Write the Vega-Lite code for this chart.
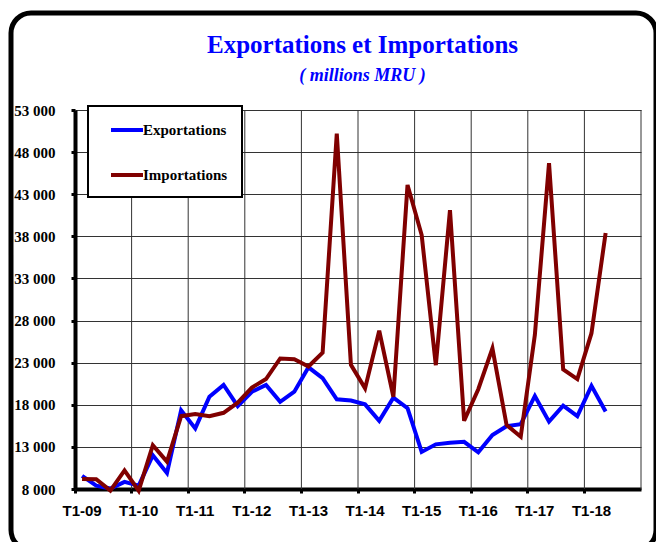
{
  "$schema": "https://vega.github.io/schema/vega-lite/v6.json",
  "width": 645,
  "height": 537,
  "autosize": {"type": "none"},
  "padding": {"left": 11, "top": 13, "right": 0, "bottom": 0},
  "background": "white",
  "config": {"view": {"stroke": "black", "strokeWidth": 5, "cornerRadius": 20, "fill": "white"}},
  "title": {
    "text": "Exportations et Importations",
    "subtitle": "( millions MRU )",
    "anchor": "middle",
    "frame": "group",
    "dx": 29,
    "offset": -72,
    "font": "Liberation Serif",
    "fontSize": 25,
    "fontWeight": "bold",
    "color": "#0000FF",
    "subtitleFont": "Liberation Serif",
    "subtitleFontSize": 18,
    "subtitleFontWeight": "bold",
    "subtitleFontStyle": "italic",
    "subtitleColor": "#0000FF",
    "subtitlePadding": 9
  },
  "data": {"values": [
    {"trimestre": "T1-09", "serie": "Exportations", "valeur": 9550},
    {"trimestre": "T2-09", "serie": "Exportations", "valeur": 8400},
    {"trimestre": "T3-09", "serie": "Exportations", "valeur": 8050},
    {"trimestre": "T4-09", "serie": "Exportations", "valeur": 8850},
    {"trimestre": "T1-10", "serie": "Exportations", "valeur": 8400},
    {"trimestre": "T2-10", "serie": "Exportations", "valeur": 12000},
    {"trimestre": "T3-10", "serie": "Exportations", "valeur": 9900},
    {"trimestre": "T4-10", "serie": "Exportations", "valeur": 17350},
    {"trimestre": "T1-11", "serie": "Exportations", "valeur": 15200},
    {"trimestre": "T2-11", "serie": "Exportations", "valeur": 18950},
    {"trimestre": "T3-11", "serie": "Exportations", "valeur": 20350},
    {"trimestre": "T4-11", "serie": "Exportations", "valeur": 17850},
    {"trimestre": "T1-12", "serie": "Exportations", "valeur": 19550},
    {"trimestre": "T2-12", "serie": "Exportations", "valeur": 20350},
    {"trimestre": "T3-12", "serie": "Exportations", "valeur": 18350},
    {"trimestre": "T4-12", "serie": "Exportations", "valeur": 19550},
    {"trimestre": "T1-13", "serie": "Exportations", "valeur": 22450},
    {"trimestre": "T2-13", "serie": "Exportations", "valeur": 21150},
    {"trimestre": "T3-13", "serie": "Exportations", "valeur": 18650},
    {"trimestre": "T4-13", "serie": "Exportations", "valeur": 18500},
    {"trimestre": "T1-14", "serie": "Exportations", "valeur": 18050},
    {"trimestre": "T2-14", "serie": "Exportations", "valeur": 16100},
    {"trimestre": "T3-14", "serie": "Exportations", "valeur": 18850},
    {"trimestre": "T4-14", "serie": "Exportations", "valeur": 17600},
    {"trimestre": "T1-15", "serie": "Exportations", "valeur": 12400},
    {"trimestre": "T2-15", "serie": "Exportations", "valeur": 13300},
    {"trimestre": "T3-15", "serie": "Exportations", "valeur": 13500},
    {"trimestre": "T4-15", "serie": "Exportations", "valeur": 13600},
    {"trimestre": "T1-16", "serie": "Exportations", "valeur": 12350},
    {"trimestre": "T2-16", "serie": "Exportations", "valeur": 14400},
    {"trimestre": "T3-16", "serie": "Exportations", "valeur": 15450},
    {"trimestre": "T4-16", "serie": "Exportations", "valeur": 15700},
    {"trimestre": "T1-17", "serie": "Exportations", "valeur": 19050},
    {"trimestre": "T2-17", "serie": "Exportations", "valeur": 16000},
    {"trimestre": "T3-17", "serie": "Exportations", "valeur": 17900},
    {"trimestre": "T4-17", "serie": "Exportations", "valeur": 16650},
    {"trimestre": "T1-18", "serie": "Exportations", "valeur": 20250},
    {"trimestre": "T2-18", "serie": "Exportations", "valeur": 17200},
    {"trimestre": "T1-09", "serie": "Importations", "valeur": 9200},
    {"trimestre": "T2-09", "serie": "Importations", "valeur": 9150},
    {"trimestre": "T3-09", "serie": "Importations", "valeur": 7800},
    {"trimestre": "T4-09", "serie": "Importations", "valeur": 10200},
    {"trimestre": "T1-10", "serie": "Importations", "valeur": 7800},
    {"trimestre": "T2-10", "serie": "Importations", "valeur": 13200},
    {"trimestre": "T3-10", "serie": "Importations", "valeur": 11250},
    {"trimestre": "T4-10", "serie": "Importations", "valeur": 16650},
    {"trimestre": "T1-11", "serie": "Importations", "valeur": 16900},
    {"trimestre": "T2-11", "serie": "Importations", "valeur": 16650},
    {"trimestre": "T3-11", "serie": "Importations", "valeur": 17050},
    {"trimestre": "T4-11", "serie": "Importations", "valeur": 18250},
    {"trimestre": "T1-12", "serie": "Importations", "valeur": 20050},
    {"trimestre": "T2-12", "serie": "Importations", "valeur": 21050},
    {"trimestre": "T3-12", "serie": "Importations", "valeur": 23500},
    {"trimestre": "T4-12", "serie": "Importations", "valeur": 23400},
    {"trimestre": "T1-13", "serie": "Importations", "valeur": 22550},
    {"trimestre": "T2-13", "serie": "Importations", "valeur": 24200},
    {"trimestre": "T3-13", "serie": "Importations", "valeur": 50200},
    {"trimestre": "T4-13", "serie": "Importations", "valeur": 22750},
    {"trimestre": "T1-14", "serie": "Importations", "valeur": 19950},
    {"trimestre": "T2-14", "serie": "Importations", "valeur": 26800},
    {"trimestre": "T3-14", "serie": "Importations", "valeur": 18950},
    {"trimestre": "T4-14", "serie": "Importations", "valeur": 44100},
    {"trimestre": "T1-15", "serie": "Importations", "valeur": 38150},
    {"trimestre": "T2-15", "serie": "Importations", "valeur": 22700},
    {"trimestre": "T3-15", "serie": "Importations", "valeur": 41100},
    {"trimestre": "T4-15", "serie": "Importations", "valeur": 16100},
    {"trimestre": "T1-16", "serie": "Importations", "valeur": 19850},
    {"trimestre": "T2-16", "serie": "Importations", "valeur": 24700},
    {"trimestre": "T3-16", "serie": "Importations", "valeur": 15600},
    {"trimestre": "T4-16", "serie": "Importations", "valeur": 14200},
    {"trimestre": "T1-17", "serie": "Importations", "valeur": 26300},
    {"trimestre": "T2-17", "serie": "Importations", "valeur": 46700},
    {"trimestre": "T3-17", "serie": "Importations", "valeur": 22200},
    {"trimestre": "T4-17", "serie": "Importations", "valeur": 21050},
    {"trimestre": "T1-18", "serie": "Importations", "valeur": 26500},
    {"trimestre": "T2-18", "serie": "Importations", "valeur": 38400}
  ]},
  "layer": [
    {
      "data": {"values": [{"trimestre": "T1-10"}, {"trimestre": "T1-11"}, {"trimestre": "T1-12"}, {"trimestre": "T1-13"}, {"trimestre": "T1-14"}, {"trimestre": "T1-15"}, {"trimestre": "T1-16"}, {"trimestre": "T1-17"}, {"trimestre": "T1-18"}]},
      "mark": {"type": "rule", "color": "#333333", "strokeWidth": 1},
      "encoding": {
        "x": {"field": "trimestre", "type": "ordinal", "bandPosition": 0},
        "y": {"datum": 8000, "type": "quantitative"},
        "y2": {"datum": 53000}
      }
    },
    {
      "data": {"values": [{"trimestre": "T4-18"}]},
      "mark": {"type": "rule", "color": "#333333", "strokeWidth": 1},
      "encoding": {
        "x": {"field": "trimestre", "type": "ordinal", "bandPosition": 1},
        "y": {"datum": 8000, "type": "quantitative"},
        "y2": {"datum": 53000}
      }
    },
    {
      "mark": {"type": "line", "strokeWidth": 4},
      "encoding": {
        "x": {
          "field": "trimestre",
          "type": "ordinal",
          "sort": null,
          "scale": {
            "type": "band",
            "domain": ["T1-09","T2-09","T3-09","T4-09","T1-10","T2-10","T3-10","T4-10","T1-11","T2-11","T3-11","T4-11","T1-12","T2-12","T3-12","T4-12","T1-13","T2-13","T3-13","T4-13","T1-14","T2-14","T3-14","T4-14","T1-15","T2-15","T3-15","T4-15","T1-16","T2-16","T3-16","T4-16","T1-17","T2-17","T3-17","T4-17","T1-18","T2-18","T3-18","T4-18"],
            "range": [64, 630],
            "paddingInner": 0,
            "paddingOuter": 0
          },
          "axis": {
            "title": null,
            "values": ["T1-09","T1-10","T1-11","T1-12","T1-13","T1-14","T1-15","T1-16","T1-17","T1-18"],
            "bandPosition": 0,
            "labelDx": 7,
            "labelAlign": "center",
            "labelAngle": 0,
            "labelBaseline": "top",
            "labelFont": "Liberation Sans",
            "labelFontWeight": "bold",
            "labelFontSize": 15,
            "labelColor": "black",
            "labelPadding": 10,
            "domainColor": "black",
            "domainWidth": 4,
            "tickColor": "black",
            "tickSize": 4,
            "tickWidth": 3,
            "grid": false,
            "offset": -61
          }
        },
        "y": {
          "field": "valeur",
          "type": "quantitative",
          "scale": {"domain": [8000, 53000], "range": [476, 97], "nice": false, "zero": false},
          "axis": {
            "title": null,
            "values": [8000, 13000, 18000, 23000, 28000, 33000, 38000, 43000, 48000, 53000],
            "labelExpr": "replace(format(datum.value, ','), ',', ' ')",
            "labelFont": "Liberation Serif",
            "labelFontWeight": "bold",
            "labelFontSize": 15,
            "labelColor": "black",
            "labelPadding": 16,
            "tickSize": 4,
            "tickWidth": 3,
            "tickColor": "black",
            "domainColor": "black",
            "domainWidth": 4,
            "grid": true,
            "gridColor": "#333333",
            "gridWidth": 1,
            "offset": -64
          }
        },
        "color": {
          "field": "serie",
          "type": "nominal",
          "scale": {"domain": ["Exportations", "Importations"], "range": ["#0000FF", "#800000"]},
          "legend": {
            "title": null,
            "orient": "none",
            "legendX": 77,
            "legendY": 93,
            "fillColor": "white",
            "strokeColor": "black",
            "padding": 14,
            "symbolType": "M-2,0H2",
            "symbolSize": 256,
            "symbolStrokeWidth": 4,
            "symbolOffset": 15,
            "labelOffset": 6,
            "rowPadding": 27,
            "labelFont": "Liberation Serif",
            "labelFontWeight": "bold",
            "labelFontSize": 15,
            "labelColor": "black",
            "encode": {"legend": {"update": {"strokeWidth": {"value": 2}}}}
          }
        }
      }
    }
  ]
}
